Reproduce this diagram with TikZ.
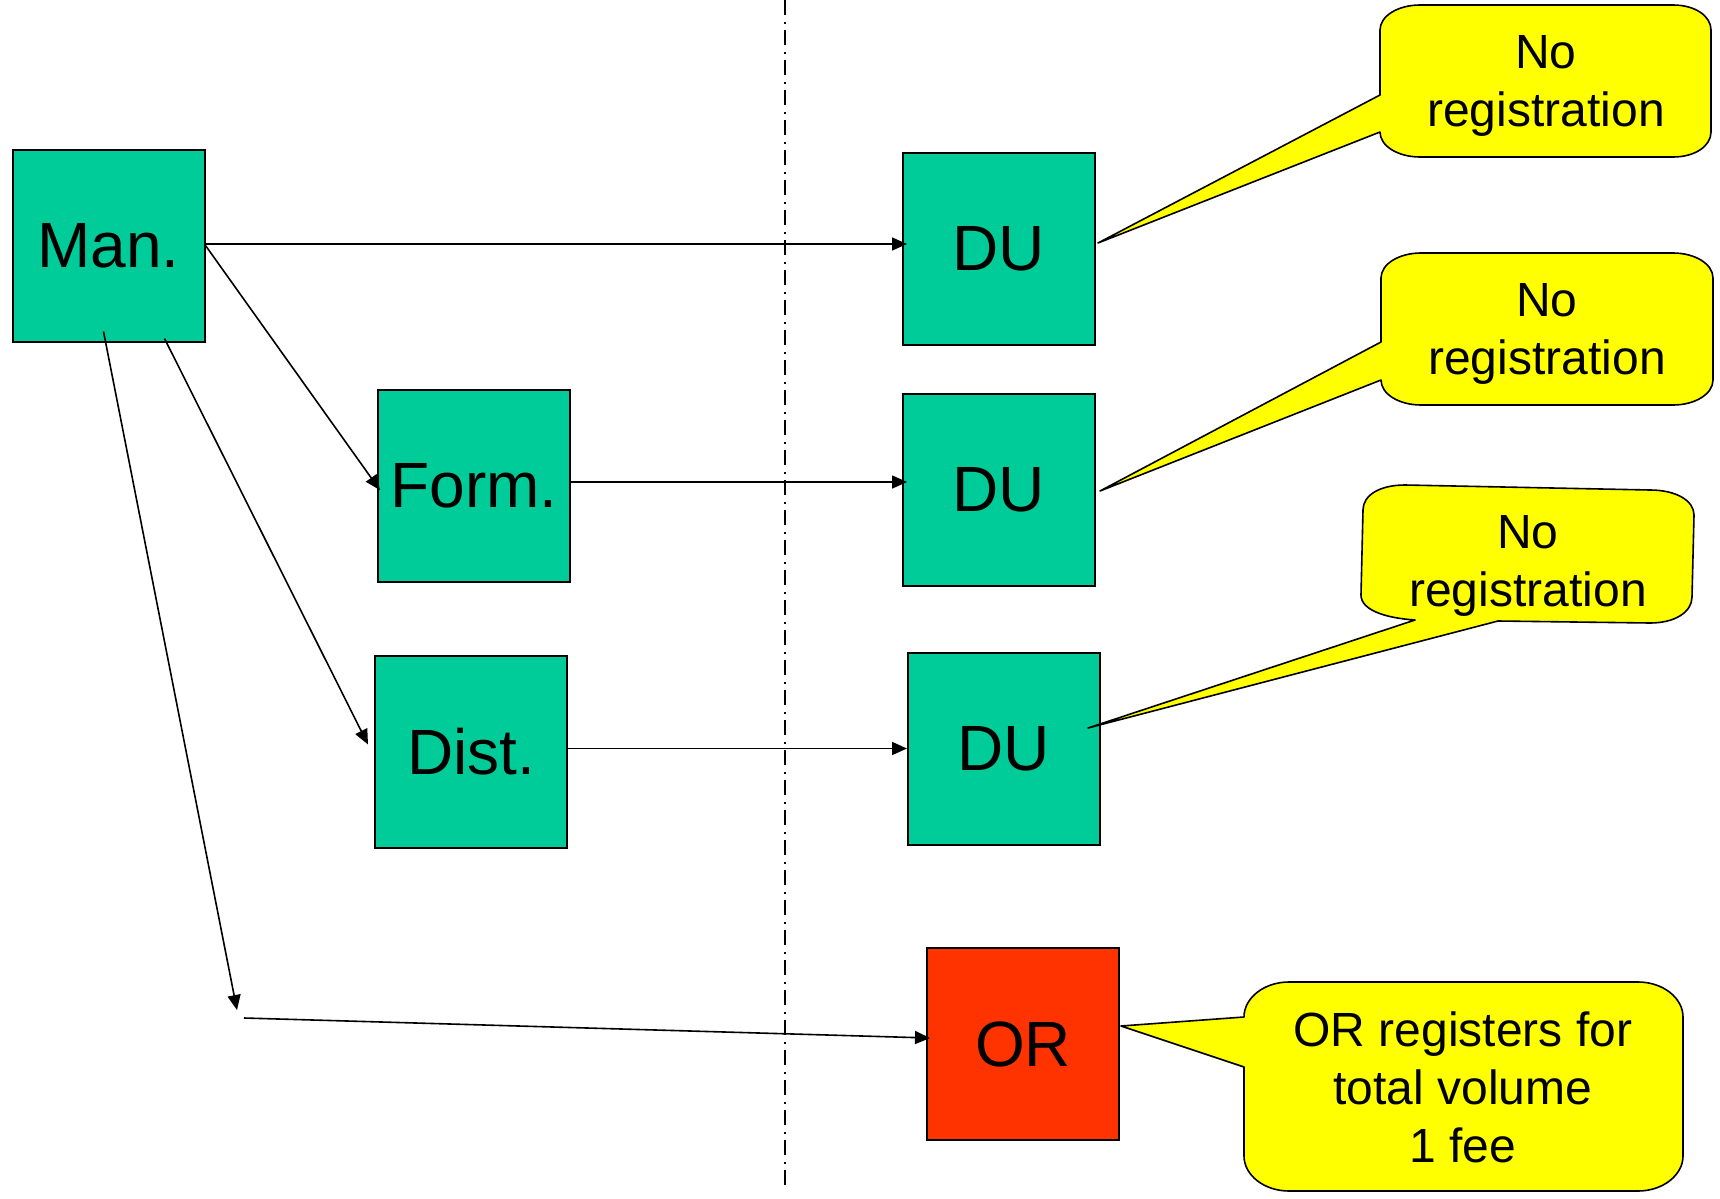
\documentclass[tikz,border=0pt]{standalone}
\usepackage{fontspec}
\setmainfont{Liberation Sans}
\usetikzlibrary{arrows.meta,calc}
\definecolor{boxgreen}{RGB}{0,204,153}
\definecolor{boxred}{RGB}{255,51,0}
\definecolor{callyellow}{RGB}{255,255,0}
\begin{document}
\begin{tikzpicture}[x=0.5pt,y=-0.5pt,
  box/.style={draw=black, line width=1pt, minimum width=96pt, minimum height=96pt, inner sep=0pt, font=\fontsize{32}{32}\selectfont},
  arr/.style={-{Triangle[length=7.5pt,width=6.5pt]}, line width=0.8pt},
  into/.style={shorten >=-2.5pt},
  divider/.style={line width=0.9pt, dash pattern=on 7.5pt off 3.5pt on 0.75pt off 3.25pt},
  callout/.style={fill=callyellow, draw=black, line width=0.8pt, line join=round},
  ctext/.style={align=center, inner sep=0pt, font=\fontsize{24}{29}\selectfont}]
\useasboundingbox (0,0) rectangle (1720,1199);

% divider
\coordinate (divtop) at (785,0);
\coordinate (divbot) at (785,1192);
\draw[divider] (divtop) -- (divbot);

% boxes
\node[box, fill=boxgreen] (man)  at (108.5,245.5) {Man.};
\node[box, fill=boxgreen] (form) at (474,486)     {Form.};
\node[box, fill=boxgreen] (dist) at (471,751.5)   {Dist.};
\node[box, fill=boxgreen] (du1)  at (999,249)     {DU};
\node[box, fill=boxgreen] (du2)  at (999,489.5)   {DU};
\node[box, fill=boxgreen] (du3)  at (1004,748.5)  {DU};
\node[box, fill=boxred]   (or)   at (1023,1044)   {OR};

% connectors
\coordinate (p1) at (237,1010);
\coordinate (p2) at (244,1018);
\draw[arr, into] ([yshift=0.75pt]man.east) -- ([yshift=0.75pt]man.east -| du1.west);
\draw[arr, into] (man.east) -- (form.west);
\draw[arr] ([shift={(56,-4)}]man.south) -- ([shift={(-6,-7)}]dist.west);
\draw[arr] ([shift={(-5,-11)}]man.south) -- (p1);
\draw[arr] (p2) -- ([shift={(4,-6)}]or.west);
\draw[arr, into] ([yshift=2pt]form.east) -- ([yshift=2pt]form.east -| du2.west);
\draw[arr] (du3.west -| dist.east) -- (du3.west);

% callout 1
\draw[callout] (1420,5) -- (1673,5) .. controls (1695,5) and (1711,16) .. (1711,30)
  -- (1711,132) .. controls (1711,146) and (1695,157) .. (1673,157)
  -- (1420,157) .. controls (1398,157) and (1380,146) .. (1380,132)
  -- (1098,243) -- (1380,95)
  -- (1380,30) .. controls (1380,16) and (1398,5) .. (1420,5) -- cycle;
\node[ctext] (c1) at (1546,86) {No\\registration};

% callout 2
\draw[callout] (1421,253) -- (1673,253) .. controls (1695,253) and (1713,264) .. (1713,278)
  -- (1713,380) .. controls (1713,394) and (1695,405) .. (1673,405)
  -- (1421,405) .. controls (1399,405) and (1381,394) .. (1381,380)
  -- (1100,491) -- (1381,342)
  -- (1381,278) .. controls (1381,264) and (1399,253) .. (1421,253) -- cycle;
\node[ctext] (c2) at (1547,334) {No\\registration};

% callout 3
\draw[callout] (1405,485) -- (1650,490) .. controls (1675,490) and (1694,500) .. (1694,515)
  -- (1692,597) .. controls (1692,612) and (1675,623) .. (1650,623)
  -- (1498,621) -- (1088,728) -- (1415,620)
  .. controls (1385,618) and (1361,610) .. (1361,595)
  -- (1363,510) .. controls (1363,495) and (1380,485) .. (1405,485) -- cycle;
\node[ctext] (c3) at (1528,566) {No\\registration};

% callout 4
\draw[callout] (1289,982) -- (1638,982) .. controls (1663,982) and (1683,998) .. (1683,1017)
  -- (1683,1156) .. controls (1683,1175) and (1663,1191) .. (1638,1191)
  -- (1289,1191) .. controls (1264,1191) and (1244,1175) .. (1244,1156)
  -- (1244,1067) -- (1121,1026) -- (1244,1017)
  .. controls (1244,998) and (1264,982) .. (1289,982) -- cycle;
\node[ctext] (c4) at (1463,1087) {OR registers for\\total volume\\1 fee};
\end{tikzpicture}
\end{document}
